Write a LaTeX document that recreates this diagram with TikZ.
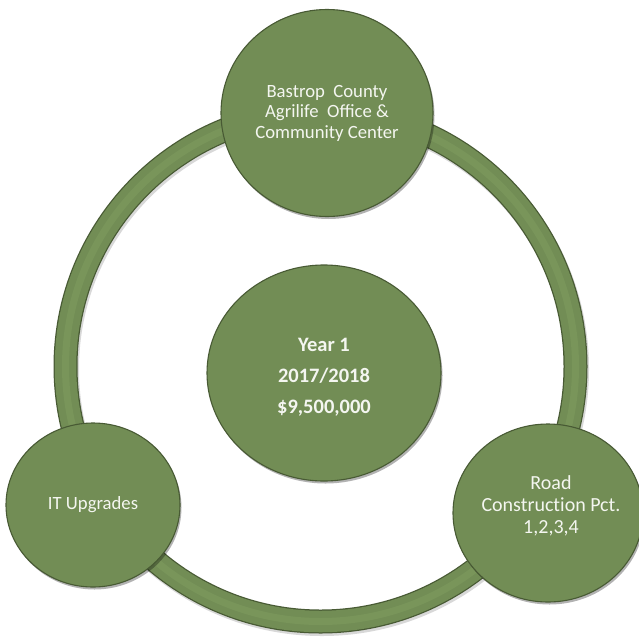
\documentclass[tikz,border=0pt]{standalone}
\usepackage{fontspec}
\setmainfont{Carlito}
\usetikzlibrary{shapes.geometric,shadows}
\definecolor{gmain}{RGB}{114,141,85}
\definecolor{gdark}{RGB}{72,90,52}
\definecolor{glight}{RGB}{128,158,96}
\definecolor{tcol}{RGB}{244,246,240}
\tikzset{
  bubble/.style={ellipse, fill=gmain, draw=gdark, line width=1.1pt, inner sep=0pt,
    text=tcol, align=center,
    font=\fontsize{18.7pt}{20.5pt}\selectfont,
    drop shadow={shadow xshift=1.5pt, shadow yshift=-2.5pt, opacity=0.3, fill=black}},
  btext/.style={text=tcol, align=center, inner sep=0pt},
}
\begin{document}
\begin{tikzpicture}[x=1pt,y=-1pt]
\useasboundingbox (0,0) rectangle (639,637);
\fill[white] (0,0) rectangle (639,637);
\coordinate (rc) at (320.5,366.5);
% ring
\draw[black!30, opacity=0.5, line width=24pt] ([shift={(1.5,2.5)}]rc) circle[radius=255pt];
\draw[gdark, line width=24pt] (rc) circle[radius=255pt];
\draw[gmain, line width=21.5pt] (rc) circle[radius=255pt];
\draw[glight, opacity=0.5, line width=7pt] (rc) circle[radius=255pt];
% bubbles
\node[bubble, minimum width=212pt, minimum height=207pt] (top) at (327,113)
  {Bastrop\ \ County\\Agrilife\ \ Office \&\\Community Center};
\node[bubble, minimum width=174pt, minimum height=164pt] (it) at (93,505) {IT Upgrades};
\node[bubble, minimum width=190pt, minimum height=178pt] (road) at (548,513) {};
\node[btext, font=\fontsize{20pt}{22pt}\selectfont\addfontfeatures{Ligatures=NoCommon}] (roadtxt) at (551,506)
  {Road\\Construction Pct.\\1,2,3,4};
\node[bubble, minimum width=234pt, minimum height=216pt] (center) at (324,373) {};
\node[btext, font=\bfseries\fontsize{20.5pt}{31pt}\selectfont] (centertxt) at (324,377)
  {Year 1\\2017/2018\\\$9,500,000};
\end{tikzpicture}
\end{document}
